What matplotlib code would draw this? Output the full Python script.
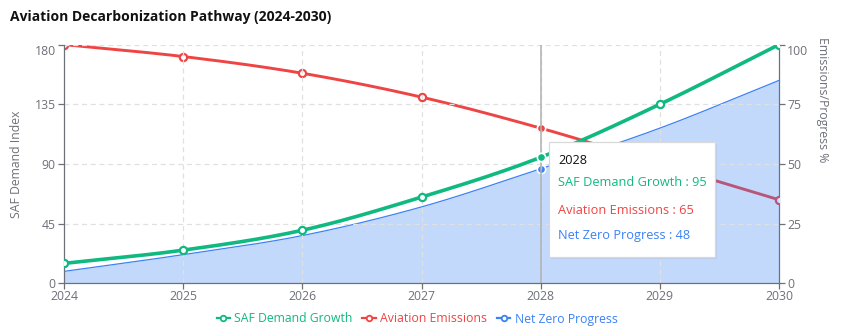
import numpy as np
import matplotlib
matplotlib.use("Agg")
import matplotlib.pyplot as plt
from matplotlib.lines import Line2D

plt.rcParams['font.family'] = ['Open Sans', 'DejaVu Sans']

years = [2024, 2025, 2026, 2027, 2028, 2029, 2030]
saf_demand = [15, 25, 40, 65, 95, 135, 180]
aviation_emissions = [100, 95, 88, 78, 65, 50, 35]
net_zero = [5, 12, 20, 32, 48, 65, 85]
left_ticks = [0, 45, 90, 135, 180]
right_ticks = [0, 25, 50, 75, 100]
hover_year = 2028

GREEN = '#10b981'
RED = '#ef4444'
BLUE = '#3b82f6'
AXIS = '#6e7079'
GRID = '#e0e0e0'

W, H = 843, 336
fig = plt.figure(figsize=(W / 100, H / 100), dpi=100)
L, R, T, B = 64, 779, 44.6, 283.3
ax = fig.add_axes([L / W, 1 - B / H, (R - L) / W, (B - T) / H])
ax2 = ax.twinx()


def smooth(x, y, n=40):
    x = np.asarray(x, float)
    y = np.asarray(y, float)
    px = np.concatenate([[2 * x[0] - x[1]], x, [2 * x[-1] - x[-2]]])
    py = np.concatenate([[2 * y[0] - y[1]], y, [2 * y[-1] - y[-2]]])
    xs, ys = [], []
    for i in range(1, len(px) - 2):
        t = np.linspace(0, 1, n, endpoint=(i == len(px) - 3))
        for p, out in ((px, xs), (py, ys)):
            p0, p1, p2, p3 = p[i - 1], p[i], p[i + 1], p[i + 2]
            out.append(0.5 * ((2 * p1) + (-p0 + p2) * t + (2 * p0 - 5 * p1 + 4 * p2 - p3) * t ** 2
                              + (-p0 + 3 * p1 - 3 * p2 + p3) * t ** 3))
    return np.concatenate(xs), np.concatenate(ys)


x = np.array(years, float)

# grid
for yv in left_ticks[1:]:
    ax.axhline(yv, color=GRID, lw=0.9, ls=(0, (4, 3)), zorder=0)
for xv in years[1:-1]:
    ax.axvline(xv, color=GRID, lw=0.9, ls=(0, (4, 3)), zorder=0)

# axis pointer
ax.axvline(hover_year, color='#b0b0b0', lw=1.1, zorder=1)

hi = years.index(hover_year)

# SAF (left axis)
sx, sy = smooth(x, saf_demand)
ax.plot(sx, sy, color=GREEN, lw=2.6, zorder=5, solid_capstyle='round')
m = [i for i in range(len(years)) if i != hi]
ax.plot(x[m], np.array(saf_demand)[m], 'o', ms=5.2, mfc='white', mec=GREEN, mew=1.6, zorder=6)
ax.plot(x[hi], saf_demand[hi], 'o', ms=6, mfc=GREEN, mec='white', mew=1.2, zorder=6)

# Emissions (right axis)
ex, ey = smooth(x, aviation_emissions)
ax2.plot(ex, ey, color=RED, lw=2.1, zorder=2)
ax2.plot(x[m], np.array(aviation_emissions)[m], 'o', ms=5.2, mfc='white', mec=RED, mew=1.6, zorder=3)
ax2.plot(x[hi], aviation_emissions[hi], 'o', ms=6, mfc=RED, mec='white', mew=1.2, zorder=3)

# Net zero (right axis, area)
nx, ny = smooth(x, net_zero)
ax2.fill_between(nx, 0, ny, color=BLUE, alpha=0.3, lw=0, zorder=4)
ax2.plot(nx, ny, color=BLUE, lw=0.9, zorder=4)
ax2.plot(x[hi], net_zero[hi], 'o', ms=6, mfc=BLUE, mec='white', mew=1.2, zorder=5)

ax.set_zorder(ax2.get_zorder() + 1)
ax.patch.set_visible(False)

ax.set_xlim(years[0], years[-1])
ax.set_ylim(left_ticks[0], left_ticks[-1])
ax2.set_ylim(right_ticks[0], right_ticks[-1])
ax.set_xticks(years)
ax.set_xticklabels([str(y) for y in years])
ax.set_yticks(left_ticks)
ax2.set_yticks(right_ticks)

for a in (ax, ax2):
    for s in a.spines.values():
        s.set_visible(False)
    a.tick_params(colors=AXIS, labelsize=8.8, length=4, width=0.9, pad=2)
ax.spines['left'].set_visible(True)
ax.spines['bottom'].set_visible(True)
ax2.spines['right'].set_visible(True)
for s in (ax.spines['left'], ax.spines['bottom'], ax2.spines['right']):
    s.set_color(AXIS)
    s.set_linewidth(0.9)
ax.tick_params(axis='x', pad=1)
ax.get_yticklabels()[-1].set_va('top')
ax2.get_yticklabels()[-1].set_va('top')

ax.set_ylabel('SAF Demand Index', color=AXIS, fontsize=8.8)
ax.yaxis.set_label_coords(-0.058, 0.5)

fig.text(822 / W, 1 - 100 / H, 'Emissions/Progress %', rotation=270, color=AXIS,
         fontsize=8.8, ha='center', va='center')

fig.text(10 / W, 1 - 17 / H, 'Aviation Decarbonization Pathway (2024-2030)',
         fontsize=10, fontweight='bold', color='#111111', ha='left', va='center')

# legend
handles = [Line2D([0], [0], color=c, lw=1.6, marker='o', ms=4, mfc='white', mec=c, mew=1.3)
           for c in (GREEN, RED, BLUE)]
leg = fig.legend(handles, ['SAF Demand Growth', 'Aviation Emissions', 'Net Zero Progress'],
                 loc='center', bbox_to_anchor=(417 / W, 1 - 319 / H), ncol=3, frameon=False,
                 fontsize=8.8, handlelength=1.1, handletextpad=0.35, columnspacing=0.8,
                 labelcolor='linecolor')

# tooltip
bx0, by0, bx1, by1 = 549, 142, 715, 257
fig.patches.append(plt.Rectangle((bx0 / W + 0.002, 1 - by1 / H - 0.006), (bx1 - bx0) / W, (by1 - by0) / H,
                                 transform=fig.transFigure, facecolor='#000000', alpha=0.06,
                                 lw=0, zorder=19))
fig.patches.append(plt.Rectangle((bx0 / W, 1 - by1 / H), (bx1 - bx0) / W, (by1 - by0) / H,
                                 transform=fig.transFigure, facecolor='white', edgecolor='#d9d9d9',
                                 lw=0.9, zorder=20))
fig.text(558 / W, 1 - 160 / H, str(hover_year), color='#111111', fontsize=9.2, va='center', zorder=21)
rows = [('SAF Demand Growth', saf_demand[hi], GREEN, 183),
        ('Aviation Emissions', aviation_emissions[hi], RED, 210),
        ('Net Zero Progress', net_zero[hi], BLUE, 236)]
for name, val, col, yy in rows:
    fig.text(558 / W, 1 - yy / H, f'{name} : {val}', color=col, fontsize=9.2, va='center', zorder=21)

fig.savefig('out.png', dpi=100)
